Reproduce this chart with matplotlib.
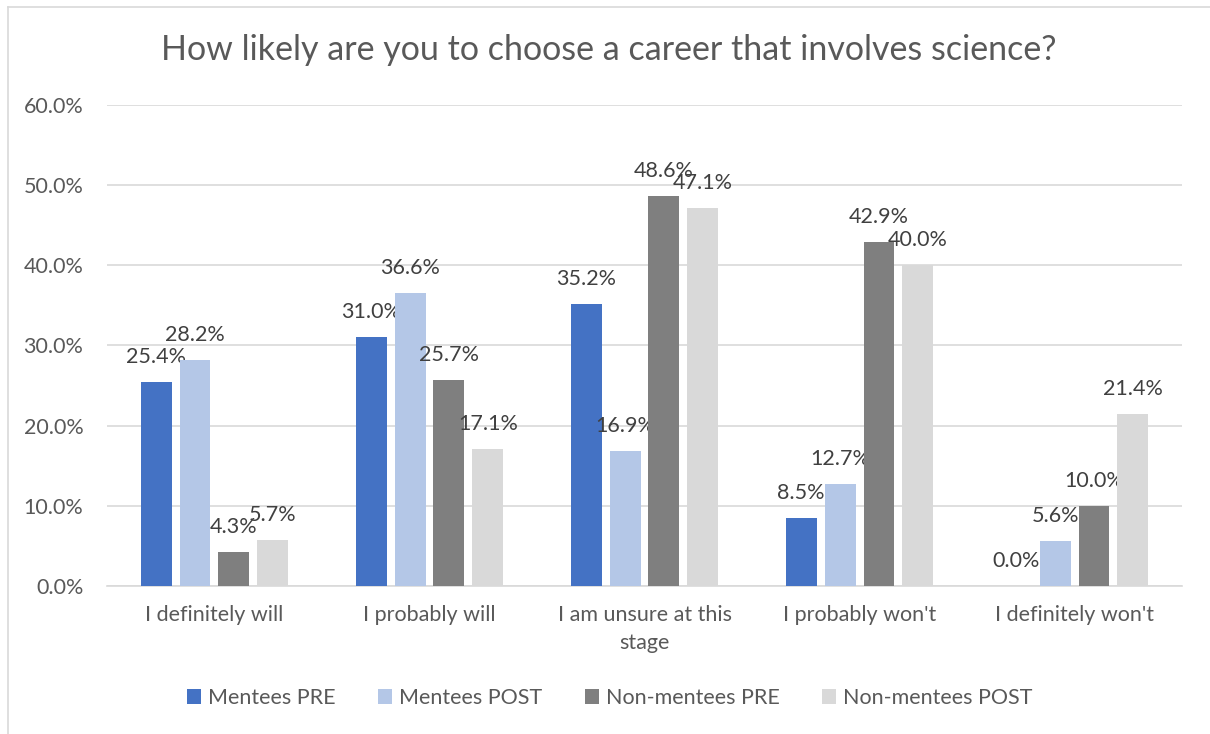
import numpy as np
import matplotlib.pyplot as plt
from matplotlib.lines import Line2D
from matplotlib.ticker import PercentFormatter

plt.rcParams['font.family'] = ['Lato', 'DejaVu Sans']

# Survey answers and the share of each group per answer (%)
categories = ["I definitely will", "I probably will", "I am unsure at this\nstage",
              "I probably won't", "I definitely won't"]
series = ["Mentees PRE", "Mentees POST", "Non-mentees PRE", "Non-mentees POST"]
mentees_pre = [25.4, 31.0, 35.2, 8.5, 0.0]
mentees_post = [28.2, 36.6, 16.9, 12.7, 5.6]
non_mentees_pre = [4.3, 25.7, 48.6, 42.9, 10.0]
non_mentees_post = [5.7, 17.1, 47.1, 40.0, 21.4]
colors = ["#4472C4", "#B4C7E7", "#7F7F7F", "#D9D9D9"]

values = [mentees_pre, mentees_post, non_mentees_pre, non_mentees_post]
text_col = "#595959"
fs = 15.5

fig = plt.figure(figsize=(12.1, 7.34), dpi=100)
ax = fig.add_axes([0.0884, 0.2016, 0.8885, 0.6554])

x = np.arange(len(categories))
width = 0.144
step = 0.181
for i, (name, vals, c) in enumerate(zip(series, values, colors)):
    pos = x + (i - 1.5) * step
    bars = ax.bar(pos, vals, width, color=c, label=name, zorder=3)
    for b, v in zip(bars, vals):
        ax.annotate(f"{v:.1f}%", (b.get_x() + b.get_width() / 2, v),
                    xytext=(0, 18), textcoords="offset points",
                    ha="center", va="center", fontsize=fs, color="#404040")

ax.set_xlim(-0.5, len(categories) - 0.5)
ax.set_ylim(0, 60)
ax.set_yticks(np.arange(0, 61, 10))
ax.yaxis.set_major_formatter(PercentFormatter(decimals=1))
ax.set_xticks(x)
ax.set_xticklabels(categories, linespacing=1.45)
ax.tick_params(axis="y", length=0, pad=17, labelsize=fs, labelcolor=text_col)
ax.tick_params(axis="x", length=0, pad=14, labelsize=fs, labelcolor=text_col)
ax.grid(axis="y", color="#D9D9D9", linewidth=1.2, zorder=0)
for s in ["top", "right", "left"]:
    ax.spines[s].set_visible(False)
ax.spines["bottom"].set_color("#D9D9D9")
ax.spines["bottom"].set_linewidth(1.2)

fig.text(0.503, 0.932, "How likely are you to choose a career that involves science?",
         ha="center", va="center", fontsize=24.5, color=text_col)

ax.legend(loc="center", bbox_to_anchor=(0.504, 0.049), bbox_transform=fig.transFigure,
          ncol=4, frameon=False, fontsize=fs, labelcolor=text_col,
          handlelength=0.65, handleheight=0.65, handletextpad=0.3, columnspacing=2.0)

# light frame around the chart
fig.add_artist(Line2D([8 / 1210, 8 / 1210], [0, 1 - 7 / 734], color="#D9D9D9", lw=1.2))
fig.add_artist(Line2D([8 / 1210, 1], [1 - 7 / 734, 1 - 7 / 734], color="#D9D9D9", lw=1.2))

fig.savefig("out.png", dpi=100)
